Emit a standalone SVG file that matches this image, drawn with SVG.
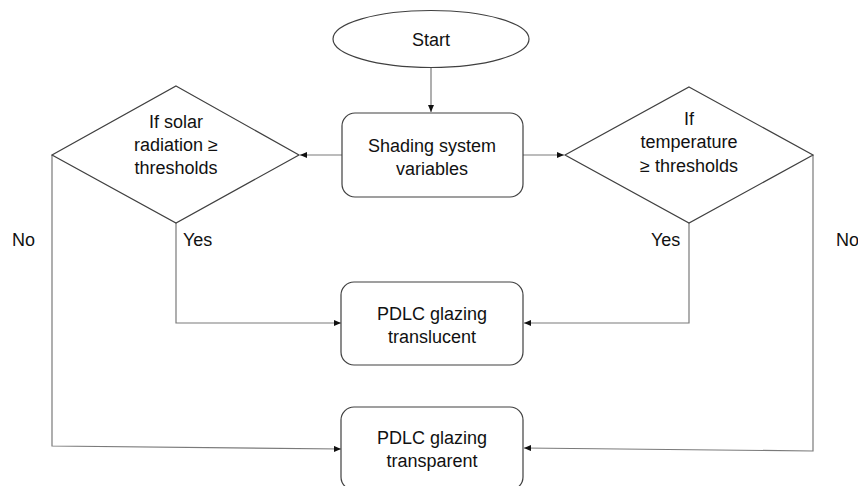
<svg xmlns="http://www.w3.org/2000/svg" width="858" height="486" viewBox="0 0 858 486">
<style>
.shape{fill:#ffffff;stroke:#404040;stroke-width:1.2}
.conn{fill:none;stroke:#7a7a7a;stroke-width:1.2}
.t{font-family:"Liberation Sans",Arial,sans-serif;font-size:18px;fill:#111111;text-anchor:middle}
.l{font-family:"Liberation Sans",Arial,sans-serif;font-size:18px;fill:#111111}
</style>
<defs>
<marker id="arr" markerWidth="7" markerHeight="6" refX="7" refY="3" orient="auto" markerUnits="userSpaceOnUse">
<path d="M0,0 L7,3 L0,6 Z" fill="#111111"/>
</marker>
</defs>
<rect width="858" height="486" fill="#ffffff"/>
<g id="connectors">
<line class="conn" x1="431" y1="67" x2="431" y2="112" marker-end="url(#arr)"/>
<line class="conn" x1="342" y1="155" x2="300" y2="155" marker-end="url(#arr)"/>
<line class="conn" x1="523" y1="155" x2="564" y2="155" marker-end="url(#arr)"/>
<polyline class="conn" points="176,223 176,323 341,323" marker-end="url(#arr)"/>
<polyline class="conn" points="689,223 689,323 524,323" marker-end="url(#arr)"/>
<polyline class="conn" points="52,155 52,446 341,449" marker-end="url(#arr)"/>
<polyline class="conn" points="813,155 813,451 524,448" marker-end="url(#arr)"/>
</g>
<g id="start">
<ellipse class="shape" cx="431" cy="39" rx="98" ry="28.5"/>
<text class="t" x="431" y="46">Start</text>
</g>
<g id="shading">
<rect class="shape" x="342" y="113" width="181" height="84" rx="13"/>
<text class="t" x="432" y="152">Shading system</text>
<text class="t" x="432" y="175">variables</text>
</g>
<g id="solar">
<polygon class="shape" points="176,86 299,155 176,223 52,155"/>
<text class="t" x="176" y="128">If solar</text>
<text class="t" x="176" y="151">radiation ≥</text>
<text class="t" x="176" y="174">thresholds</text>
</g>
<g id="temperature">
<polygon class="shape" points="689,87 813,155 689,223 565,155"/>
<text class="t" x="689" y="125">If</text>
<text class="t" x="689" y="148">temperature</text>
<text class="t" x="689" y="172">≥ thresholds</text>
</g>
<g id="translucent">
<rect class="shape" x="341" y="282" width="182" height="83" rx="13"/>
<text class="t" x="432" y="320">PDLC glazing</text>
<text class="t" x="432" y="343">translucent</text>
</g>
<g id="transparent">
<rect class="shape" x="341" y="407" width="182" height="83" rx="13"/>
<text class="t" x="432" y="444">PDLC glazing</text>
<text class="t" x="432" y="467">transparent</text>
</g>
<g id="labels">
<text class="l" x="183" y="246">Yes</text>
<text class="l" x="651" y="246">Yes</text>
<text class="l" x="12" y="246">No</text>
<text class="l" x="836" y="246">No</text>
</g>
</svg>
